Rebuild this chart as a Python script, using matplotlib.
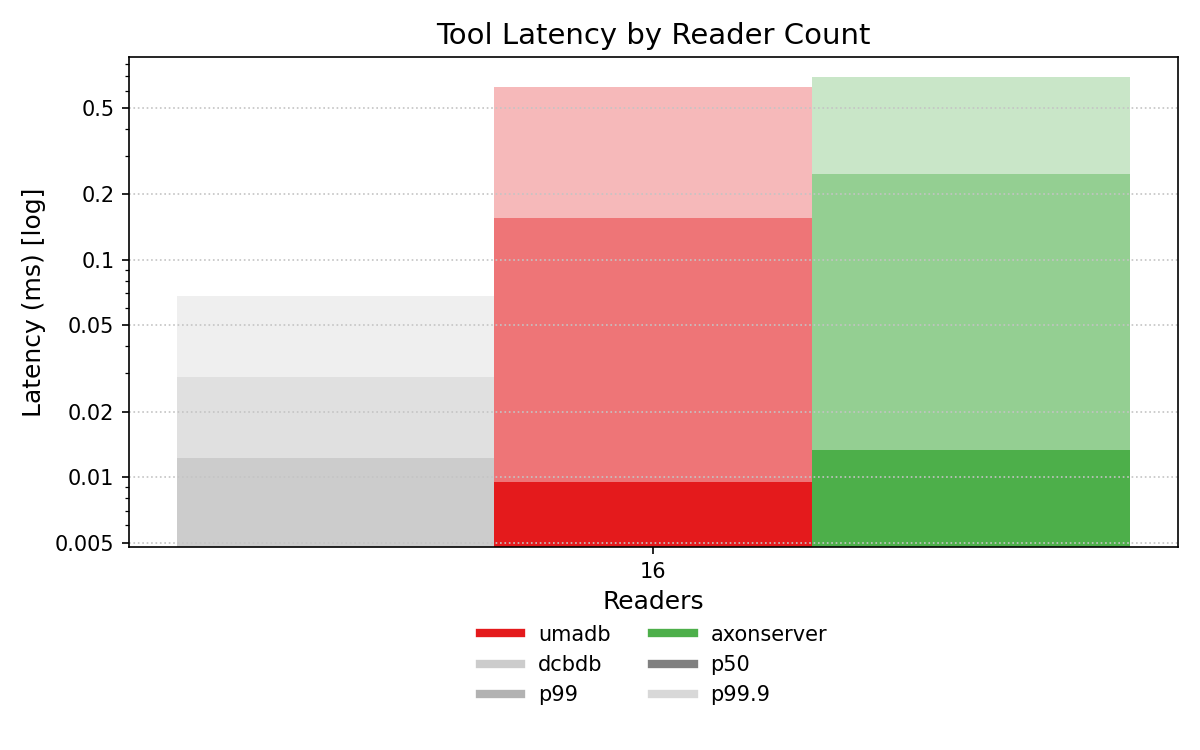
import numpy as np
import matplotlib
matplotlib.use("Agg")
from matplotlib import pyplot as plt
from matplotlib.lines import Line2D
from matplotlib.ticker import FixedLocator, LogLocator, NullFormatter, FixedFormatter

# values (latency in ms, 16 readers)
readers = ["16"]
tools = ["dcbdb", "umadb", "axonserver"]
tool_colors = ["#cccccc", "#e41a1c", "#4daf4a"]
p50 = [0.01222, 0.00947, 0.0133]
p99 = [0.0288, 0.1554, 0.2477]
p999 = [0.068, 0.6226, 0.692]

y_ticks = [0.005, 0.01, 0.02, 0.05, 0.1, 0.2, 0.5]
y_tick_labels = ["0.005", "0.01", "0.02", "0.05", "0.1", "0.2", "0.5"]

fig = plt.figure(figsize=(8, 5), dpi=150)
ax = fig.add_axes([0.1075, 0.2707, 0.874, 0.6533])

x = np.arange(len(readers))
width = 0.8 / len(tools)
floor = 1e-4  # bars start well below the visible range

for i, (name, col) in enumerate(zip(tools, tool_colors)):
    xpos = x + (i - 1) * width
    # p50 solid, then p99 and p99.9 segments lighter on top
    ax.bar(xpos, np.array([p50[i]]) - floor, width, bottom=floor, color=col, alpha=1.0, linewidth=0)
    ax.bar(xpos, np.array([p99[i] - p50[i]]), width, bottom=p50[i], color=col, alpha=0.6, linewidth=0)
    ax.bar(xpos, np.array([p999[i] - p99[i]]), width, bottom=p99[i], color=col, alpha=0.3, linewidth=0)

ax.set_yscale("log")
ax.set_ylim(0.00477, 0.858)
ax.yaxis.set_major_locator(FixedLocator(y_ticks))
ax.yaxis.set_major_formatter(FixedFormatter(y_tick_labels))
ax.yaxis.set_minor_locator(LogLocator(base=10, subs=np.arange(2, 10)))
ax.yaxis.set_minor_formatter(NullFormatter())
ax.yaxis.grid(True, which="major", linestyle=":", color="#c4c4c4", linewidth=0.8)

ax.set_xticks(x)
ax.set_xticklabels(readers)

ax.set_title("Tool Latency by Reader Count", fontsize=14)
ax.set_xlabel("Readers", fontsize=12)
ax.set_ylabel("Latency (ms) [log]", fontsize=12)

# legend: tools by colour, percentiles by shade
handles = [
    Line2D([0], [0], color="#e41a1c", lw=4),
    Line2D([0], [0], color="#cccccc", lw=4),
    Line2D([0], [0], color="grey", lw=4, alpha=0.6),
    Line2D([0], [0], color="#4daf4a", lw=4),
    Line2D([0], [0], color="grey", lw=4),
    Line2D([0], [0], color="grey", lw=4, alpha=0.3),
]
labels = ["umadb", "dcbdb", "p99", "axonserver", "p50", "p99.9"]
ax.legend(handles, labels, loc="upper center", bbox_to_anchor=(0.5, -0.12),
          ncol=2, frameon=False)

fig.savefig("out.png", dpi=150)
